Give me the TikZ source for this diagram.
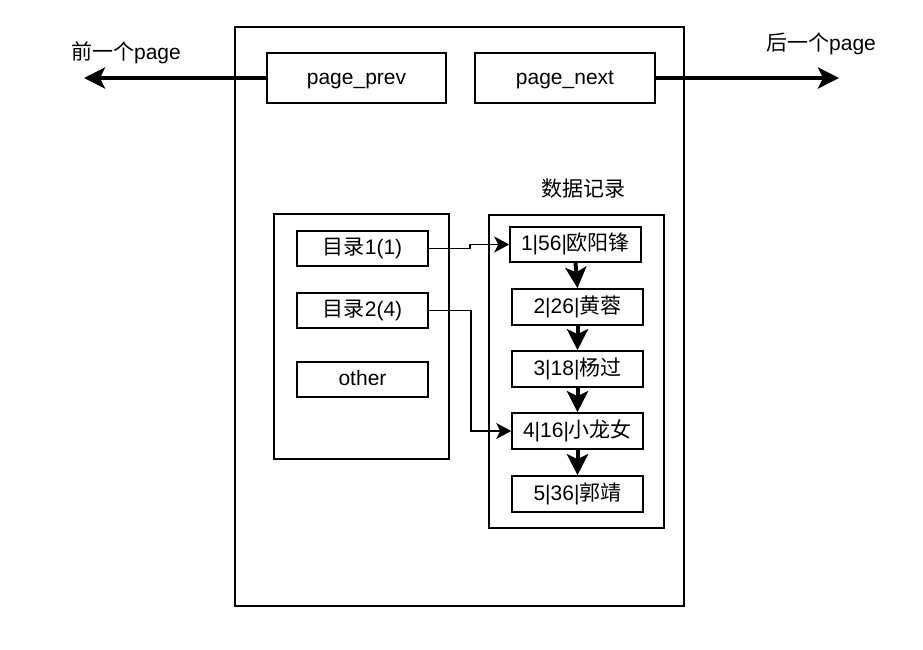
\documentclass[tikz,border=0pt]{standalone}
\usepackage{fontspec}
\setmainfont{Liberation Sans}
\newfontfamily\cjk{Noto Sans CJK SC}
\newcommand{\zh}[1]{{\cjk #1}}
\usetikzlibrary{arrows.meta, positioning}
\tikzset{
x=1pt, y=-1pt, % one unit is one pixel of the page, y runs downwards
every node/.style={font=\fontsize{21}{25}\selectfont, inner sep=0pt, text height=17pt, text depth=5pt},
frame/.style={draw, line width=1.6pt}, % the big outlines
cell/.style={draw, line width=1.6pt, minimum width=131, minimum height=35}, % small boxes
link/.style={line width=4pt, -{Stealth[length=21pt, width=21pt, inset=5pt]}}, % thick arrows
ref/.style={line width=1.8pt, -{Stealth[length=15pt, width=16pt, inset=4pt]}}, % thin connectors
}

\begin{document}
\begin{tikzpicture}
    \useasboundingbox (0,0) rectangle (923,649);

    % the page
    \draw[frame] (235,27) rectangle (684,606);
    \node[cell, minimum width=179, minimum height=50] (prev) at (356.5,78) {page\_prev};
    \node[cell, minimum width=180, minimum height=50] (next) at (565,78) {page\_next};

    \coordinate (lefttip) at (84,78);
    \coordinate (righttip) at (839,78);
    \node (prevlabel) at (126,53) {\zh{前一个}page};
    \node (nextlabel) at (821,44) {\zh{后一个}page};
    \draw[link] (prev.west) -- (lefttip);
    \draw[link] (next.east) -- (righttip);

    % directory
    \draw[frame] (274,214) rectangle (449,459);
    \node[cell] (dir1) at (362.5,248.5) {\zh{目录}1(1)};
    \node[cell] (dir2) at (362.5,310.5) {\zh{目录}2(4)};
    \node[cell] (other) at (362.5,379.5) {other};

    % records
    \node (title) at (583,190) {\zh{数据记录}};
    \draw[frame] (489,215) rectangle (664,528);
    \node[cell] (r1) at (575.5,244.5) {1|56|\zh{欧阳锋}};
    \node[cell, minimum height=36] (r2) at (577.5,307) {2|26|\zh{黄蓉}};
    \node[cell, minimum height=36] (r3) at (577.5,369) {3|18|\zh{杨过}};
    \node[cell, minimum height=36] (r4) at (577.5,431) {4|16|\zh{小龙女}};
    \node[cell, minimum height=36] (r5) at (577.5,494) {5|36|\zh{郭靖}};

    \foreach \a/\b in {r1/r2, r2/r3, r3/r4, r4/r5}
        \draw[link] (\a.south) -- (\b.north);

    \draw[ref] (dir1.east) -- ++(41,0) |- (r1.west);
    \draw[ref] (dir2.east) -- ++(42,0) |- (r4.west);
\end{tikzpicture}
\end{document}
